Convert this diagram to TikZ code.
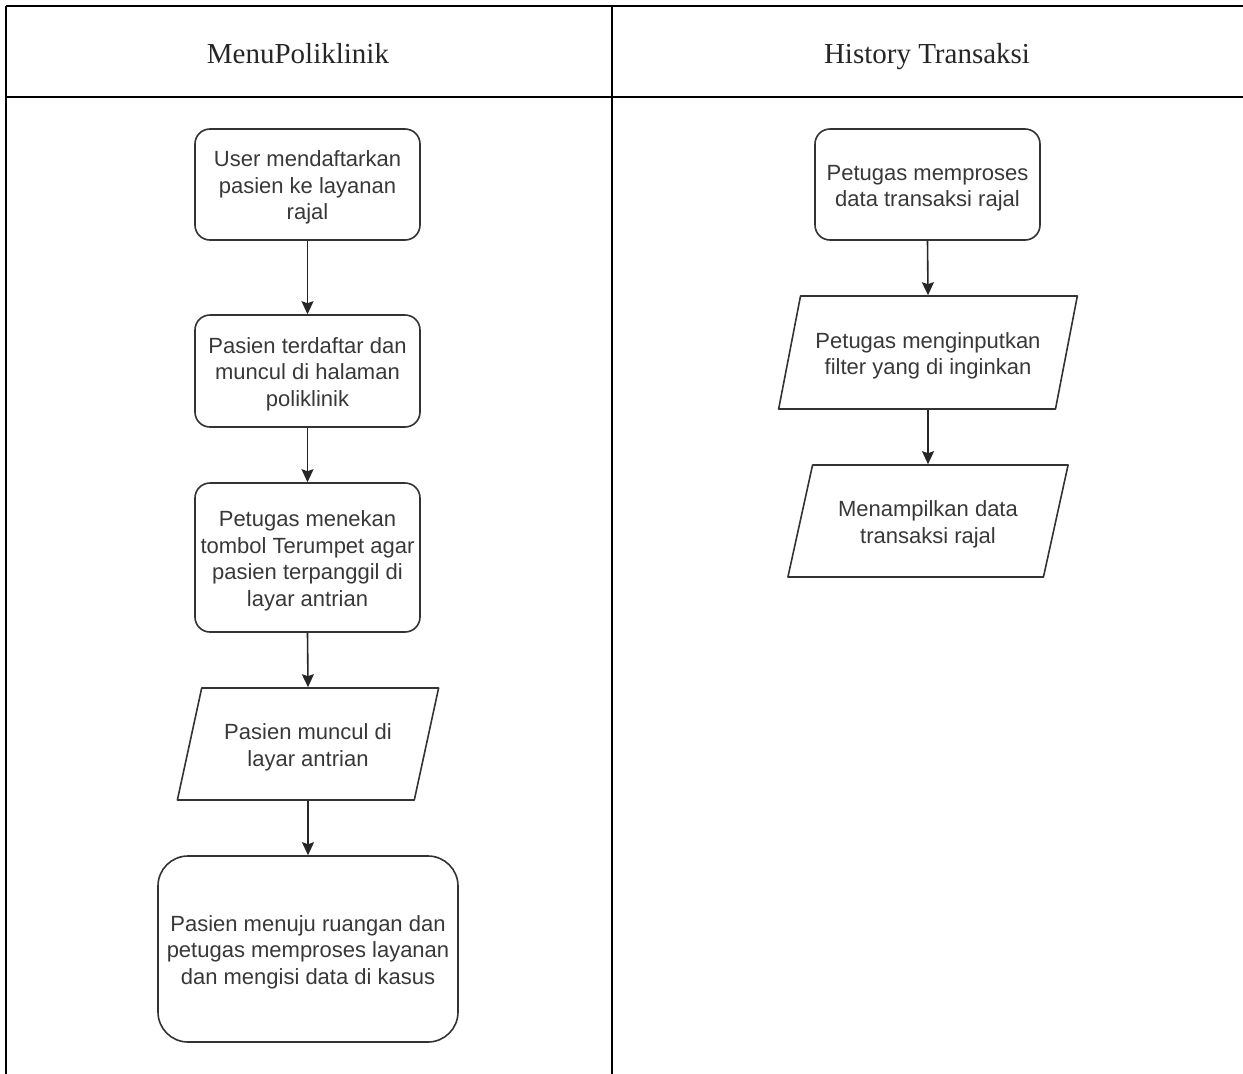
\documentclass[tikz,border=0pt]{standalone}
\usepackage{fontspec}
\setmainfont{Liberation Serif}
\newfontfamily\boxfont{Liberation Sans}
\usetikzlibrary{shapes.geometric,arrows.meta,calc,positioning}
\newcommand\boxlines[1]{\raisebox{-3.5pt}[\height][\depth]{\begin{tabular}{@{}c@{}}#1\end{tabular}}}

\begin{document}
\begin{tikzpicture}[x=1pt,y=-1pt,line join=round,
  lane/.style={line width=1.6pt,black},
  head/.style={anchor=base,font=\fontsize{29}{34}\selectfont,text=black!85},
  proc/.style={draw=black!80,line width=1.6pt,rounded corners=15pt,inner sep=2pt,
    text=black!78,font=\boxfont\fontsize{22}{26.5}\selectfont},
  io/.style={draw=black!80,line width=1.6pt,trapezium,trapezium left angle=71,trapezium right angle=109,
    trapezium stretches=true,inner sep=2pt,text=black!78,font=\boxfont\fontsize{22}{26.5}\selectfont},
  arr/.style={line width=1.6pt,black!85,-{Stealth[length=13pt,width=12pt,inset=2pt]}}]
\useasboundingbox (0,0) rectangle (1243,1074);
% swimlanes
\draw[lane] (6,6)--(1243,6) (6,97)--(1243,97) (6,6)--(6,1074) (612,6)--(612,1074);
\node[head] (hpoli) at (298,63) {MenuPoliklinik};
\node[head] (hhist) at (927,63) {History Transaksi};
% left lane
\node[proc,minimum width=225,minimum height=111] (b1) at (307.5,184.5) {\boxlines{User mendaftarkan\\pasien ke layanan\\rajal}};
\node[proc,minimum width=225,minimum height=112] (b2) at (307.5,371) {\boxlines{Pasien terdaftar dan\\muncul di halaman\\poliklinik}};
\node[proc,minimum width=225,minimum height=149] (b3) at (307.5,557.5) {\boxlines{Petugas menekan\\tombol Terumpet agar\\pasien terpanggil di\\layar antrian}};
\node[io,minimum width=262,minimum height=112] (p4) at (308,744) {\boxlines{Pasien muncul di\\layar antrian}};
\node[proc,rounded corners=30pt,minimum width=300,minimum height=186] (b5) at (308,949) {\boxlines{Pasien menuju ruangan dan\\petugas memproses layanan\\dan mengisi data di kasus}};
% right lane
\node[proc,minimum width=225,minimum height=111] (r1) at (927.5,184.5) {\boxlines{Petugas memproses\\data transaksi rajal}};
\node[io,minimum width=299,minimum height=113] (r2) at (928,352.5) {\boxlines{Petugas menginputkan\\filter yang di inginkan}};
\node[io,minimum width=281,minimum height=112] (r3) at (928,521) {\boxlines{Menampilkan data\\transaksi rajal}};
\foreach \a/\b in {b1/b2,b2/b3,b3/p4,p4/b5,r1/r2,r2/r3}{\draw[arr] (\a.south)--(\b.north);}
\end{tikzpicture}
\end{document}
